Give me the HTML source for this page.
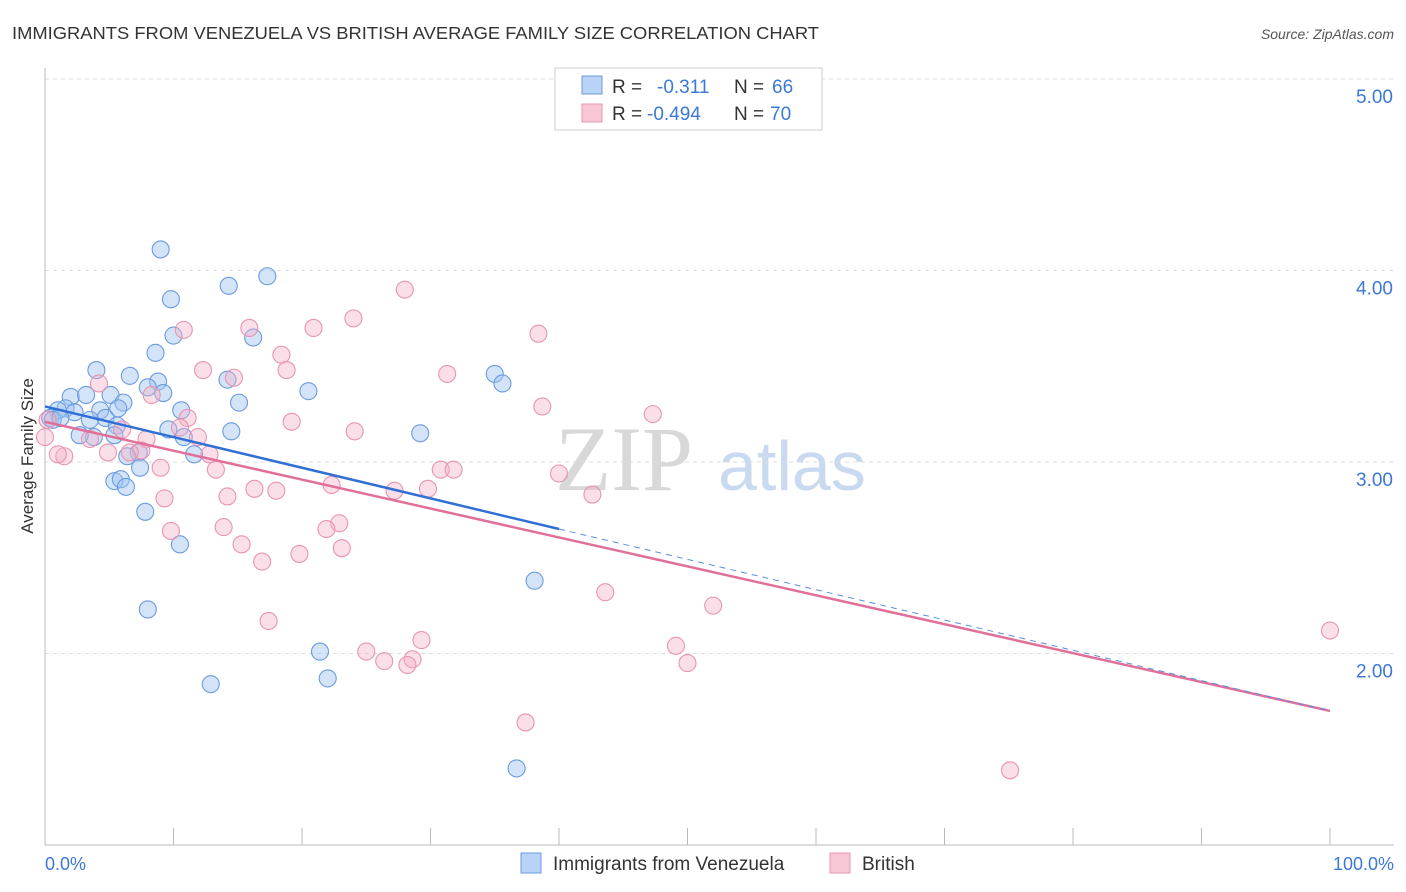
<!DOCTYPE html>
<html><head><meta charset="utf-8"><style>
body{margin:0;background:#fff;font-family:"Liberation Sans",sans-serif}
svg{display:block}
</style></head><body>
<svg id="chart" width="1406" height="892">
<text x="12" y="39" font-size="17.5" fill="#333" textLength="807" lengthAdjust="spacingAndGlyphs">IMMIGRANTS FROM VENEZUELA VS BRITISH AVERAGE FAMILY SIZE CORRELATION CHART</text>
<text x="1394" y="39" font-size="14" fill="#555" font-style="italic" text-anchor="end">Source: ZipAtlas.com</text>
<text x="33" y="456" font-size="17" fill="#333" text-anchor="middle" transform="rotate(-90 33 456)">Average Family Size</text>
<text x="555" y="490" font-size="92" fill="#d8d8d8" font-family="Liberation Serif,serif">ZIP</text>
<text x="718" y="490" font-size="70" fill="#c9daf0">atlas</text>
<g id="grid"></g><g id="pts"></g><g id="lines"></g>
<g>
<rect x="555" y="68" width="267" height="62" fill="#fff" stroke="#ccc"/>
<rect x="582" y="76" width="20" height="18" fill="#b8d3f5" stroke="#6a9be0"/>
<rect x="582" y="104" width="20" height="18" fill="#f9c6d5" stroke="#e895b0"/>
<text x="612" y="93" font-size="19" fill="#333">R = </text><text x="657" y="93" font-size="19" fill="#3b78d8">-0.311</text>
<text x="734" y="93" font-size="19" fill="#333">N = </text><text x="772" y="93" font-size="19" fill="#3b78d8">66</text>
<text x="612" y="120" font-size="19" fill="#333">R = </text><text x="647" y="120" font-size="19" fill="#3b78d8">-0.494</text>
<text x="734" y="120" font-size="19" fill="#333">N = </text><text x="770" y="120" font-size="19" fill="#3b78d8">70</text>
</g>
<g>
<rect x="521" y="853" width="20" height="20" fill="#b8d3f5" stroke="#6a9be0"/>
<text x="553" y="870" font-size="19" fill="#333">Immigrants from Venezuela</text>
<rect x="830" y="853" width="20" height="20" fill="#f9c6d5" stroke="#e895b0"/>
<text x="862" y="870" font-size="19" fill="#333">British</text>
</g>
<text x="45" y="870" font-size="18" fill="#3b78d8">0.0%</text>
<text x="1394" y="870" font-size="18" fill="#3b78d8" text-anchor="end">100.0%</text>
</svg>
<script>
const yTicks=[5,4,3,2];
const yTickLabels=["5.00","4.00","3.00","2.00"];
const blueX=[9.0,17.3,14.3,9.8,10.0,16.2,8.6,4.0,6.6,14.2,8.8,8.0,9.2,20.5,35.0,35.6,2.0,3.2,5.1,6.1,15.1,5.7,1.6,1.0,4.3,10.6,2.3,0.4,0.6,4.7,1.2,3.5,5.6,9.6,14.5,29.2,10.8,3.8,2.7,5.4,7.3,6.4,11.6,7.4,5.4,5.9,6.3,7.8,10.5,38.1,8.0,21.4,22.0,12.9,36.7];
const blueY=[4.11,3.97,3.92,3.85,3.66,3.65,3.57,3.48,3.45,3.43,3.42,3.39,3.36,3.37,3.46,3.41,3.34,3.35,3.35,3.31,3.31,3.28,3.28,3.27,3.27,3.27,3.26,3.23,3.22,3.23,3.23,3.22,3.19,3.17,3.16,3.15,3.13,3.13,3.14,3.14,3.05,3.03,3.04,2.97,2.90,2.91,2.87,2.74,2.57,2.38,2.23,2.01,1.87,1.84,1.40];
const pinkX=[28.0,24.0,20.9,38.4,10.8,15.9,18.4,18.8,12.3,14.7,31.3,4.2,8.3,38.7,47.3,11.1,19.2,10.5,24.1,6.0,7.9,11.9,3.5,1.5,4.9,7.5,6.6,12.8,9.0,13.3,30.8,31.8,40.0,22.3,16.3,18.0,27.2,29.8,14.2,9.3,42.6,13.9,9.8,22.9,21.9,15.3,23.1,19.8,16.9,43.6,52.0,17.4,29.3,25.0,49.1,26.4,28.6,28.2,50.0,37.4,100,75.1,1.0,0.2,0];
const pinkY=[3.90,3.75,3.70,3.67,3.69,3.70,3.56,3.48,3.48,3.44,3.46,3.41,3.35,3.29,3.25,3.23,3.21,3.18,3.16,3.17,3.12,3.13,3.12,3.03,3.05,3.06,3.05,3.04,2.97,2.96,2.96,2.96,2.94,2.88,2.86,2.85,2.85,2.86,2.82,2.81,2.83,2.66,2.64,2.68,2.65,2.57,2.55,2.52,2.48,2.32,2.25,2.17,2.07,2.01,2.04,1.96,1.97,1.94,1.95,1.64,2.12,1.39,3.04,3.22,3.13];
const blueTrend=[3.29,2.65,1.70], pinkTrend=[3.21,1.70];
const X=v=>45+v*12.85, Y=v=>79+(5-v)*191.5;
const NS="http://www.w3.org/2000/svg";
function mk(t,a,p){const e=document.createElementNS(NS,t);for(const k in a)e.setAttribute(k,a[k]);document.getElementById(p).appendChild(e);return e;}
yTicks.forEach((t,i)=>{
 const l=mk('line',{x1:45,x2:1394,y1:Y(t),y2:Y(t),stroke:'#ddd','stroke-dasharray':'4,4'},'grid');
 
 
 const tx=mk('text',{x:1393,y:Y(t)+24,'font-size':19,fill:'#3b78d8','text-anchor':'end'},'grid');
 tx.textContent=yTickLabels[i];
 
 
});
const ax=mk('line',{x1:45,x2:1394,y1:845,y2:845,stroke:'#bbb'},'grid');


const ay=mk('line',{x1:45,x2:45,y1:68,y2:845,stroke:'#bbb'},'grid');


for(let i=1;i<=10;i++){const tk=mk('line',{x1:X(i*10),x2:X(i*10),y1:828,y2:845,stroke:'#bbb'},'grid');
 
 }
blueX.forEach((v,i)=>{const c=mk('circle',{cx:X(v),cy:Y(blueY[i]),r:8.5,fill:'rgba(160,195,240,0.45)',stroke:'#6a9be0','stroke-width':1.1},'pts');
 
 });
pinkX.forEach((v,i)=>{const c=mk('circle',{cx:X(v),cy:Y(pinkY[i]),r:8.5,fill:'rgba(245,175,198,0.4)',stroke:'#e895b0','stroke-width':1.1},'pts');
 
 });
const pl=mk('line',{x1:X(0),y1:Y(pinkTrend[0]),x2:X(100),y2:Y(pinkTrend[1]),stroke:'#e0709a','stroke-width':2.5},'lines');


const bl=mk('line',{x1:X(0),y1:Y(blueTrend[0]),x2:X(40),y2:Y(blueTrend[1]),stroke:'#2f6fd6','stroke-width':2.5},'lines');


const bd=mk('line',{x1:X(40),y1:Y(blueTrend[1]),x2:X(100),y2:Y(blueTrend[2]),stroke:'#5a8fe0','stroke-width':1,'stroke-dasharray':'6,5'},'lines');


</script>
</body></html>
